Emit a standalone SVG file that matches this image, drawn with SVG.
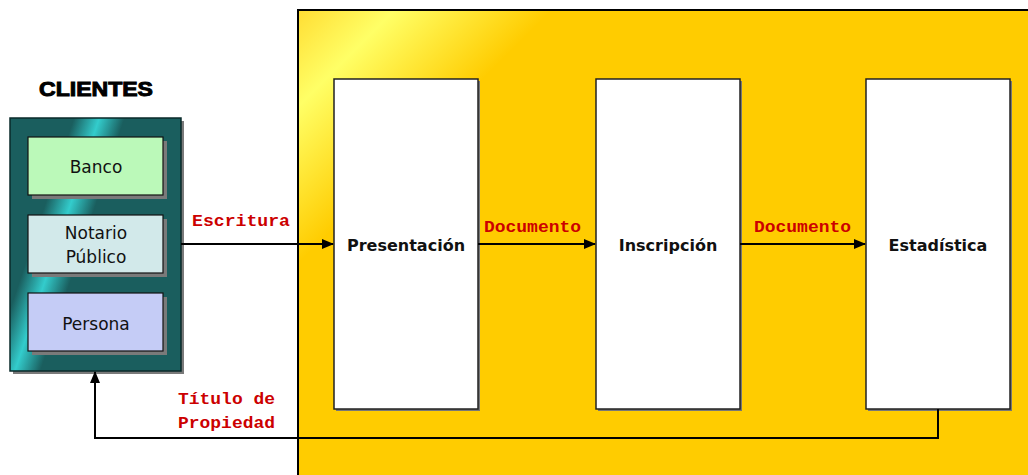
<svg xmlns="http://www.w3.org/2000/svg" width="1028" height="475" viewBox="0 0 1028 475">
<defs>
<linearGradient id="gy" gradientUnits="userSpaceOnUse" x1="298" y1="10" x2="425" y2="137">
<stop offset="0" stop-color="#FFDD33"/>
<stop offset="0.38" stop-color="#FFFF66"/>
<stop offset="1" stop-color="#FFCC00"/>
</linearGradient>
<linearGradient id="gt" gradientUnits="userSpaceOnUse" x1="0" y1="226" x2="114" y2="264">
<stop offset="0" stop-color="#1A5E5E"/>
<stop offset="0.3" stop-color="#1A5E5E"/>
<stop offset="0.5" stop-color="#33CCCC"/>
<stop offset="0.7" stop-color="#1A5E5E"/>
<stop offset="1" stop-color="#1A5E5E"/>
</linearGradient>
<marker id="ah" markerWidth="12" markerHeight="10" refX="11" refY="5" orient="auto" markerUnits="userSpaceOnUse">
<path d="M0,0 L12,5 L0,10 Z" fill="#000"/>
</marker>
<style>
.inner{stroke:#111;stroke-width:1.2}
.shadow{fill:#7a7a7a}
.proc{fill:#fff;stroke:#222;stroke-width:1.5}
.itext{font-family:"DejaVu Sans",sans-serif;font-size:17px;fill:#111;text-anchor:middle}
.ptext{font-family:"DejaVu Sans",sans-serif;font-weight:bold;font-size:16px;fill:#111;text-anchor:middle}
.lbl{font-family:"Liberation Mono","Courier New",monospace;font-weight:bold;font-size:16.5px;fill:#CC0000}
.conn{fill:none;stroke:#000;stroke-width:2}
</style>
</defs>
<rect width="1028" height="475" fill="#fff"/>
<g id="panel">
<rect x="298" y="10" width="740" height="475" fill="url(#gy)" stroke="#000" stroke-width="2"/>
</g>
<g id="clientes">
<text x="96" y="96" font-family="'Liberation Sans',Arial,sans-serif" font-weight="bold" font-size="21" text-anchor="middle" stroke="#000" stroke-width="1" textLength="114" lengthAdjust="spacingAndGlyphs">CLIENTES</text>
<rect x="13" y="121" width="171" height="253" class="shadow"/>
<rect x="10" y="118" width="171" height="253" fill="url(#gt)" stroke="#0a2a2a" stroke-width="1.5"/>
</g>
<g id="banco">
<rect x="32" y="141" width="135" height="58" class="shadow"/>
<rect x="28" y="137" width="135" height="58" fill="#BBF9B9" class="inner"/>
<text x="96" y="173" class="itext">Banco</text>
</g>
<g id="notario">
<rect x="32" y="219" width="135" height="58" class="shadow"/>
<rect x="28" y="215" width="135" height="58" fill="#D2E9EA" class="inner"/>
<text x="96" y="239" class="itext">Notario</text>
<text x="96" y="263" class="itext">Público</text>
</g>
<g id="persona">
<rect x="32" y="297" width="135" height="58" class="shadow"/>
<rect x="28" y="293" width="135" height="58" fill="#C5CCF6" class="inner"/>
<text x="96" y="330" class="itext">Persona</text>
</g>
<g id="presentacion">
<rect x="336" y="81" width="144" height="330" fill="#777"/>
<rect x="334" y="79" width="144" height="330" class="proc"/>
<text x="406" y="251" class="ptext">Presentación</text>
</g>
<g id="inscripcion">
<rect x="598" y="81" width="144" height="330" fill="#777"/>
<rect x="596" y="79" width="144" height="330" class="proc"/>
<text x="668" y="251" class="ptext">Inscripción</text>
</g>
<g id="estadistica">
<rect x="868" y="81" width="144" height="330" fill="#777"/>
<rect x="866" y="79" width="144" height="330" class="proc"/>
<text x="938" y="251" class="ptext">Estadística</text>
</g>
<g id="connectors">
<line x1="181" y1="244" x2="333" y2="244" class="conn" marker-end="url(#ah)"/>
<line x1="478" y1="244" x2="595" y2="244" class="conn" marker-end="url(#ah)"/>
<line x1="740" y1="244" x2="865" y2="244" class="conn" marker-end="url(#ah)"/>
<polyline points="938,409 938,438 95,438 95,372" class="conn" marker-end="url(#ah)"/>
<text x="192" y="226" class="lbl" textLength="98" lengthAdjust="spacingAndGlyphs">Escritura</text>
<text x="484" y="232" class="lbl" textLength="97" lengthAdjust="spacingAndGlyphs">Documento</text>
<text x="754" y="232" class="lbl" textLength="97" lengthAdjust="spacingAndGlyphs">Documento</text>
<text x="178" y="404" class="lbl" textLength="97" lengthAdjust="spacingAndGlyphs">Título de</text>
<text x="178" y="428" class="lbl" textLength="97" lengthAdjust="spacingAndGlyphs">Propiedad</text>
</g>
</svg>
